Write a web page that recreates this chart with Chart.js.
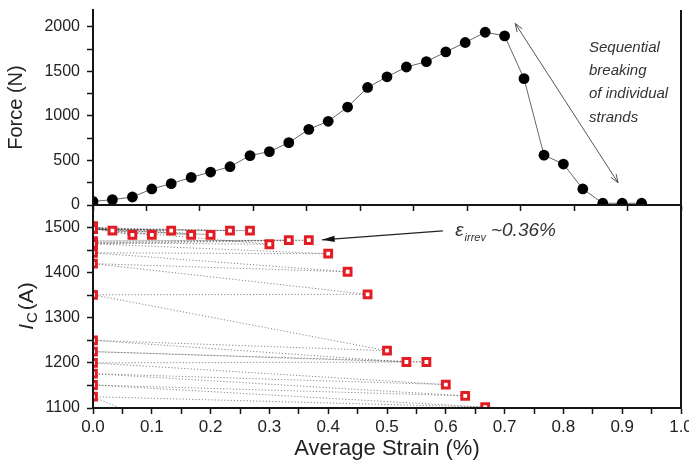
<!DOCTYPE html>
<html>
<head>
<meta charset="utf-8">
<script src="https://cdn.jsdelivr.net/npm/chart.js@4.4.0/dist/chart.umd.min.js"></script>
<style>
  body { margin: 0; background: #fff; }
  #wrap { position: relative; width: 689px; height: 466px; }
  canvas { position: absolute; left: 0; top: 0; }
</style>
</head>
<body>
<div id="wrap">
  <canvas id="icChart" width="689" height="466"></canvas>
  <canvas id="forceChart" width="689" height="466"></canvas>
</div>
<script>
'use strict';

// top panel: force vs strain
let forceStrain = [0, 0.033, 0.067, 0.1, 0.133, 0.167, 0.2, 0.233, 0.267, 0.3, 0.333, 0.367, 0.4, 0.433, 0.467,
  0.5, 0.533, 0.567, 0.6, 0.633, 0.667, 0.7, 0.733, 0.767, 0.8, 0.833, 0.867, 0.9, 0.933];
let forceValues = [40, 60, 90, 180, 240, 310, 370, 430, 555, 600, 700, 850, 940, 1100, 1320,
  1440, 1550, 1610, 1720, 1825, 1940, 1900, 1420, 560, 460, 180, 20, 20, 20];

// bottom panel: Ic, loaded point then unloaded point (strain back to 0)
let icStrain = [0, 0.033, 0, 0.067, 0, 0.1, 0, 0.133, 0, 0.167, 0, 0.2, 0, 0.233, 0, 0.267,
  0, 0.3, 0, 0.333, 0, 0.367, 0, 0.4, 0, 0.433, 0, 0.467, 0, 0.5, 0, 0.533, 0, 0.567,
  0, 0.6, 0, 0.633, 0, 0.667, 0, 0.7];
let icValues = [1503, 1493, 1497, 1484, 1500, 1484, 1497, 1493, 1500, 1484, 1497, 1484, 1500, 1493, 1497, 1493,
  1497, 1463, 1466, 1472, 1470, 1472, 1464, 1442, 1444, 1402, 1420, 1352, 1351, 1227, 1250, 1202, 1225, 1202,
  1200, 1152, 1176, 1127, 1151, 1102, 1125, 740];

// ticks
let forceMajor = [0, 500, 1000, 1500, 2000];
let forceMinor = [250, 750, 1250, 1750];
let icMajor = [1100, 1200, 1300, 1400, 1500];
let icMinor = [1150, 1250, 1350, 1450];
let strainMajor = [0, 0.1, 0.2, 0.3, 0.4, 0.5, 0.6, 0.7, 0.8, 0.9, 1.0];
let strainMinor = [0.05, 0.15, 0.25, 0.35, 0.45, 0.55, 0.65, 0.75, 0.85, 0.95];
let topMarks = [0, 0.1, 0.2, 0.3, 0.4, 0.5, 0.6, 0.7, 0.8, 0.9, 1.0, 1.1];

// annotations (data coordinates)
let breakArrow = [0.718, 2039, 0.893, 250];
let breakLines = ['Sequential', 'breaking', 'of individual', 'strands'];
let breakLineForce = [1720, 1459, 1197, 936];
let breakLineStrain = 0.8435;
let irrevArrow = [0.595, 1492.6, 0.3895, 1472.7];
let irrevAt = [0.616, 1482];

const font = 'Arial, "Liberation Sans", Helvetica, sans-serif';
Chart.defaults.font.family = font;
Chart.defaults.color = '#222';

const red = '#e31b23';
const ink = '#151515';

function setTicks(values) {
  return function (scale) {
    scale.ticks = values.slice().sort((a, b) => a - b).map(v => ({ value: v }));
  };
}
function fixWidth(w) {
  return function (scale) {
    scale.width = w;
    scale.paddingTop = 0; scale.paddingBottom = 0;
    scale.paddingLeft = 0; scale.paddingRight = 0;
  };
}
function fixHeight(h) {
  return function (scale) {
    scale.height = h;
    scale.paddingTop = 0; scale.paddingBottom = 0;
    scale.paddingLeft = 0; scale.paddingRight = 0;
  };
}

const axisGrid = { drawOnChartArea: false, drawTicks: true, tickLength: 6, tickColor: ink, tickWidth: 1.5 };
const axisBorder = { display: true, color: ink, width: 2, z: 1 };

function arrowHead(ctx, x1, y1, x2, y2, len, spread, filled) {
  let a = Math.atan2(y2 - y1, x2 - x1);
  ctx.beginPath();
  ctx.moveTo(x2 - len * Math.cos(a - spread), y2 - len * Math.sin(a - spread));
  ctx.lineTo(x2, y2);
  ctx.lineTo(x2 - len * Math.cos(a + spread), y2 - len * Math.sin(a + spread));
  if (filled) {
    ctx.closePath();
    ctx.fill();
  } else {
    ctx.stroke();
  }
}

const frameRight = {
  id: 'frameRight',
  afterDraw(chart) {
    const { ctx, chartArea: a } = chart;
    ctx.save();
    ctx.strokeStyle = ink;
    ctx.lineWidth = 2;
    ctx.beginPath();
    ctx.moveTo(a.right, a.top);
    ctx.lineTo(a.right, a.bottom + 1);
    ctx.stroke();
    ctx.restore();
  }
};

const forceNotes = {
  id: 'forceNotes',
  afterDraw(chart) {
    const ctx = chart.ctx, sx = chart.scales.x, sy = chart.scales.y;
    let x1 = sx.getPixelForValue(breakArrow[0]), y1 = sy.getPixelForValue(breakArrow[1]);
    let x2 = sx.getPixelForValue(breakArrow[2]), y2 = sy.getPixelForValue(breakArrow[3]);
    ctx.save();
    ctx.strokeStyle = '#555';
    ctx.lineWidth = 1;
    ctx.beginPath();
    ctx.moveTo(x1, y1);
    ctx.lineTo(x2, y2);
    ctx.stroke();
    arrowHead(ctx, x2, y2, x1, y1, 9, 0.35, false);
    arrowHead(ctx, x1, y1, x2, y2, 9, 0.35, false);

    ctx.fillStyle = '#333';
    ctx.font = 'italic 15px ' + font;
    ctx.textBaseline = 'alphabetic';
    ctx.textAlign = 'left';
    for (let i = 0; i < breakLines.length; i++) {
      ctx.fillText(breakLines[i], sx.getPixelForValue(breakLineStrain), sy.getPixelForValue(breakLineForce[i]));
    }
    ctx.restore();
  }
};

const icNotes = {
  id: 'icNotes',
  afterDraw(chart) {
    const ctx = chart.ctx, sx = chart.scales.x, sy = chart.scales.y;
    ctx.save();

    // arrow to the irreversible strain point
    let x1 = sx.getPixelForValue(irrevArrow[0]), y1 = sy.getPixelForValue(irrevArrow[1]);
    let x2 = sx.getPixelForValue(irrevArrow[2]), y2 = sy.getPixelForValue(irrevArrow[3]);
    ctx.strokeStyle = '#222';
    ctx.fillStyle = '#111';
    ctx.lineWidth = 1.2;
    ctx.beginPath();
    ctx.moveTo(x1, y1);
    ctx.lineTo(x2, y2);
    ctx.stroke();
    arrowHead(ctx, x1, y1, x2, y2, 13, 0.24, true);

    // epsilon_irrev ~0.36%
    let tx = sx.getPixelForValue(irrevAt[0]), ty = sy.getPixelForValue(irrevAt[1]);
    ctx.fillStyle = '#333';
    ctx.textBaseline = 'alphabetic';
    ctx.textAlign = 'left';
    ctx.font = 'italic 19px ' + font;
    ctx.fillText('\u03b5', tx, ty);
    tx += ctx.measureText('\u03b5').width + 1;
    ctx.font = 'italic 11px ' + font;
    ctx.fillText('irrev', tx, ty + 5);
    tx += ctx.measureText('irrev').width + 5;
    ctx.font = 'italic 19px ' + font;
    ctx.fillText('~0.36%', tx, ty);

    // y axis title I_C (A)
    let sc = chart.scales.y;
    let mid = (sc.top + sc.bottom) / 2;
    ctx.translate(33, mid);
    ctx.rotate(-Math.PI / 2);
    ctx.fillStyle = '#222';
    const big = 'italic 21px ' + font, sub = '15px ' + font, norm = '21px ' + font;
    ctx.font = big; let wI = ctx.measureText('I').width;
    ctx.font = sub; let wC = ctx.measureText('C').width;
    ctx.font = norm; let wA = ctx.measureText('(A)').width;
    let x0 = -(wI + wC + 2 + wA) / 2;
    ctx.font = big; ctx.fillText('I', x0, 0);
    ctx.font = sub; ctx.fillText('C', x0 + wI + 1, 4);
    ctx.font = norm; ctx.fillText('(A)', x0 + wI + wC + 3, 0);
    ctx.restore();
  }
};

new Chart(document.getElementById('icChart'), {
  type: 'scatter',
  data: {
    datasets: [{
      data: icStrain.map((s, i) => ({ x: s, y: icValues[i] })),
      showLine: true,
      borderColor: 'rgba(70,70,70,0.65)',
      borderWidth: 1,
      borderDash: [1.2, 2],
      pointStyle: 'rect',
      pointRadius: 4.8,
      pointBorderWidth: 3,
      pointBorderColor: red,
      pointBackgroundColor: '#fff',
      xAxisID: 'x',
      yAxisID: 'y'
    }]
  },
  options: {
    responsive: false,
    animation: false,
    layout: { padding: { top: 205, right: 8, left: 0, bottom: 0 } },
    plugins: { legend: { display: false }, tooltip: { enabled: false } },
    scales: {
      x: {
        type: 'linear', position: 'bottom', min: 0, max: 1,
        afterBuildTicks: setTicks(strainMajor.concat(strainMinor)),
        afterFit: fixHeight(58),
        ticks: {
          autoSkip: false, maxRotation: 0, padding: 3, color: '#222',
          font: { size: 17 },
          callback: v => strainMajor.includes(v) ? v.toFixed(1) : ''
        },
        title: { display: true, text: 'Average Strain (%)', color: '#222', font: { size: 22 }, padding: { top: 0, bottom: 4 } },
        grid: axisGrid,
        border: axisBorder
      },
      y: {
        type: 'linear', position: 'left', min: 1100, max: 1550,
        afterBuildTicks: setTicks(icMajor.concat(icMinor)),
        afterFit: fixWidth(93),
        ticks: {
          autoSkip: false, padding: 7, color: '#222',
          font: { size: 16 },
          callback: v => icMajor.includes(v) ? String(v) : ''
        },
        grid: axisGrid,
        border: axisBorder
      }
    }
  },
  plugins: [frameRight, icNotes]
});

new Chart(document.getElementById('forceChart'), {
  type: 'scatter',
  data: {
    datasets: [{
      data: forceStrain.map((s, i) => ({ x: s, y: forceValues[i] })),
      showLine: true,
      borderColor: '#666',
      borderWidth: 1,
      pointRadius: 5.4,
      pointBorderWidth: 0,
      pointBackgroundColor: '#000',
      pointBorderColor: '#000',
      xAxisID: 'x',
      yAxisID: 'y'
    }]
  },
  options: {
    responsive: false,
    animation: false,
    layout: { padding: { top: 10, right: 8, left: 0, bottom: 0 } },
    plugins: { legend: { display: false }, tooltip: { enabled: false } },
    scales: {
      x: { type: 'linear', min: 0, max: 1, display: false },
      xMarks: {
        type: 'linear', position: 'bottom', min: 0, max: 1.1,
        afterBuildTicks: setTicks(topMarks),
        afterFit: fixHeight(261),
        ticks: { display: false, autoSkip: false },
        grid: axisGrid,
        border: axisBorder
      },
      y: {
        type: 'linear', position: 'left', min: 0, max: 2190,
        afterBuildTicks: setTicks(forceMajor.concat(forceMinor)),
        afterFit: fixWidth(93),
        ticks: {
          autoSkip: false, padding: 7, color: '#222',
          font: { size: 16 },
          callback: v => forceMajor.includes(v) ? String(v) : ''
        },
        title: { display: true, text: 'Force (N)', color: '#222', font: { size: 20 }, padding: { top: 4, bottom: 0 } },
        grid: axisGrid,
        border: axisBorder
      }
    }
  },
  plugins: [frameRight, forceNotes]
});
</script>
</body>
</html>
